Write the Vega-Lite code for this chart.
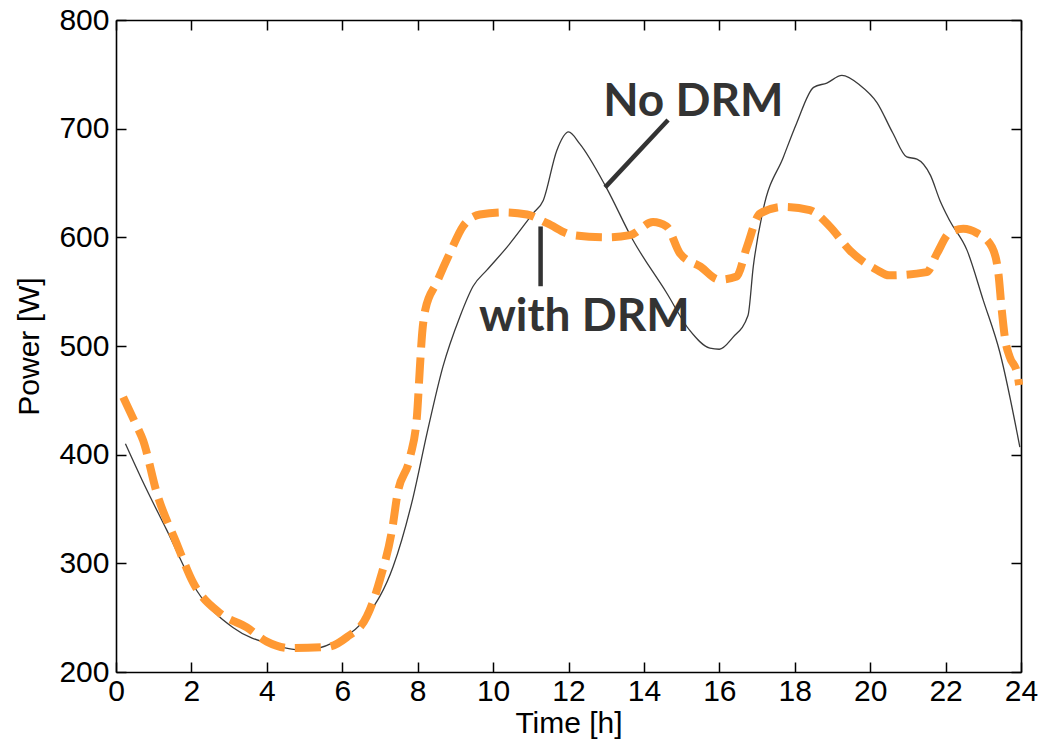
{
  "$schema": "https://vega.github.io/schema/vega-lite/v6.json",
  "width": 905,
  "height": 652,
  "autosize": {"type": "none"},
  "padding": {"left": 116, "top": 20, "right": 29, "bottom": 72},
  "background": "white",
  "config": {
    "view": {"stroke": null},
    "axis": {
      "grid": false,
      "domainColor": "black",
      "domainWidth": 1.6,
      "tickColor": "black",
      "tickWidth": 1.5,
      "tickSize": -10,
      "labelFlush": false,
      "labelOverlap": false,
      "labelFont": "Liberation Sans",
      "labelFontSize": 30,
      "labelColor": "black",
      "titleFont": "Liberation Sans",
      "titleFontSize": 30,
      "titleFontWeight": "normal",
      "titleColor": "black"
    }
  },
  "datasets": {
    "nodrm": [
      {"t": 0.25, "p": 410}, {"t": 0.7, "p": 376}, {"t": 1.34, "p": 331}, {"t": 2.14, "p": 275},
      {"t": 3.1, "p": 241}, {"t": 4.17, "p": 225}, {"t": 4.96, "p": 220}, {"t": 5.76, "p": 227},
      {"t": 6.65, "p": 251}, {"t": 7.35, "p": 297}, {"t": 7.88, "p": 361}, {"t": 8.25, "p": 420},
      {"t": 8.67, "p": 481}, {"t": 9.12, "p": 527}, {"t": 9.47, "p": 555}, {"t": 9.84, "p": 570},
      {"t": 10.37, "p": 591}, {"t": 11.06, "p": 622}, {"t": 11.33, "p": 634}, {"t": 11.69, "p": 680},
      {"t": 12.0, "p": 697}, {"t": 12.3, "p": 686}, {"t": 13.0, "p": 646}, {"t": 13.7, "p": 598},
      {"t": 14.6, "p": 549}, {"t": 15.2, "p": 515}, {"t": 15.75, "p": 498}, {"t": 16.0, "p": 497},
      {"t": 16.36, "p": 508}, {"t": 16.76, "p": 528}, {"t": 16.9, "p": 573}, {"t": 17.16, "p": 625},
      {"t": 17.7, "p": 674}, {"t": 18.05, "p": 705}, {"t": 18.5, "p": 738}, {"t": 18.85, "p": 742},
      {"t": 19.25, "p": 749}, {"t": 19.73, "p": 740}, {"t": 20.18, "p": 724}, {"t": 20.6, "p": 696},
      {"t": 20.97, "p": 674}, {"t": 21.24, "p": 672}, {"t": 21.6, "p": 657}, {"t": 21.85, "p": 634},
      {"t": 22.1, "p": 616}, {"t": 22.57, "p": 588}, {"t": 23.0, "p": 542}, {"t": 23.44, "p": 494},
      {"t": 23.97, "p": 407}
    ],
    "withdrm": [
      {"t": 0.19, "p": 453}, {"t": 0.5, "p": 430}, {"t": 0.72, "p": 413}, {"t": 1.08, "p": 365},
      {"t": 1.6, "p": 319}, {"t": 2.05, "p": 282}, {"t": 2.76, "p": 254}, {"t": 3.47, "p": 241},
      {"t": 4.0, "p": 228}, {"t": 4.6, "p": 222}, {"t": 5.6, "p": 223}, {"t": 6.12, "p": 232},
      {"t": 6.65, "p": 251}, {"t": 7.0, "p": 285}, {"t": 7.35, "p": 337}, {"t": 7.45, "p": 361},
      {"t": 7.8, "p": 398}, {"t": 7.98, "p": 435}, {"t": 8.06, "p": 481}, {"t": 8.12, "p": 512},
      {"t": 8.2, "p": 533}, {"t": 8.5, "p": 558}, {"t": 8.86, "p": 586}, {"t": 9.2, "p": 610},
      {"t": 9.65, "p": 621}, {"t": 10.3, "p": 623}, {"t": 10.9, "p": 621}, {"t": 11.43, "p": 613},
      {"t": 12.12, "p": 602}, {"t": 13.0, "p": 600}, {"t": 13.63, "p": 602}, {"t": 14.24, "p": 614},
      {"t": 14.6, "p": 610}, {"t": 14.96, "p": 585}, {"t": 15.5, "p": 573}, {"t": 16.0, "p": 561},
      {"t": 16.46, "p": 564}, {"t": 16.73, "p": 591}, {"t": 17.08, "p": 622}, {"t": 17.7, "p": 628},
      {"t": 18.4, "p": 625}, {"t": 18.93, "p": 610}, {"t": 19.46, "p": 588}, {"t": 20.18, "p": 570},
      {"t": 20.5, "p": 565}, {"t": 21.5, "p": 568}, {"t": 21.77, "p": 585}, {"t": 22.1, "p": 604},
      {"t": 22.47, "p": 608}, {"t": 22.83, "p": 604}, {"t": 23.23, "p": 591}, {"t": 23.4, "p": 567},
      {"t": 23.49, "p": 533}, {"t": 23.58, "p": 506}, {"t": 23.7, "p": 490}, {"t": 23.9, "p": 475},
      {"t": 23.95, "p": 464}
    ],
    "pointers": [
      {"label": "No DRM", "t1": 12.97, "p1": 646, "t2": 14.64, "p2": 708},
      {"label": "with DRM", "t1": 11.26, "p1": 610, "t2": 11.26, "p2": 555}
    ],
    "labels": [
      {"label": "No DRM", "t": 15.31, "p": 712},
      {"label": "with DRM", "t": 12.42, "p": 514}
    ]
  },
  "layer": [
    {
      "data": {"name": "nodrm"},
      "mark": {"type": "line", "color": "#3a3a3a", "strokeWidth": 1.3, "interpolate": "monotone"},
      "encoding": {
        "x": {"field": "t", "type": "quantitative", "scale": {"domain": [0, 24], "nice": false},
              "axis": {"orient": "bottom", "title": "Time [h]", "values": [0, 2, 4, 6, 8, 10, 12, 14, 16, 18, 20, 22, 24], "labelPadding": 14, "titlePadding": 2}},
        "y": {"field": "p", "type": "quantitative", "scale": {"domain": [200, 800], "nice": false, "zero": false},
              "axis": {"orient": "left", "title": "Power [W]", "values": [200, 300, 400, 500, 600, 700, 800], "labelPadding": 17, "titlePadding": 14}}
      }
    },
    {
      "data": {"name": "withdrm"},
      "mark": {"type": "line", "color": "#FF9933", "strokeWidth": 8, "strokeDash": [26, 10], "interpolate": "monotone"},
      "encoding": {
        "x": {"field": "t", "type": "quantitative", "axis": null},
        "y": {"field": "p", "type": "quantitative", "axis": null}
      }
    },
    {
      "data": {"name": "pointers"},
      "mark": {"type": "rule", "color": "#333333", "strokeWidth": 4.5},
      "encoding": {
        "x": {"field": "t1", "type": "quantitative",
              "axis": {"orient": "top", "title": null, "labels": false, "values": [0, 2, 4, 6, 8, 10, 12, 14, 16, 18, 20, 22, 24]}},
        "y": {"field": "p1", "type": "quantitative",
              "axis": {"orient": "right", "title": null, "labels": false, "values": [200, 300, 400, 500, 600, 700, 800]}},
        "x2": {"field": "t2"},
        "y2": {"field": "p2"}
      }
    },
    {
      "data": {"name": "labels"},
      "mark": {"type": "text", "font": "Lato", "fontWeight": "bold", "fontSize": 46, "color": "#333333", "align": "center", "baseline": "alphabetic"},
      "encoding": {
        "x": {"field": "t", "type": "quantitative", "axis": null},
        "y": {"field": "p", "type": "quantitative", "axis": null},
        "text": {"field": "label"}
      }
    }
  ],
  "resolve": {"axis": {"x": "independent", "y": "independent"}}
}
